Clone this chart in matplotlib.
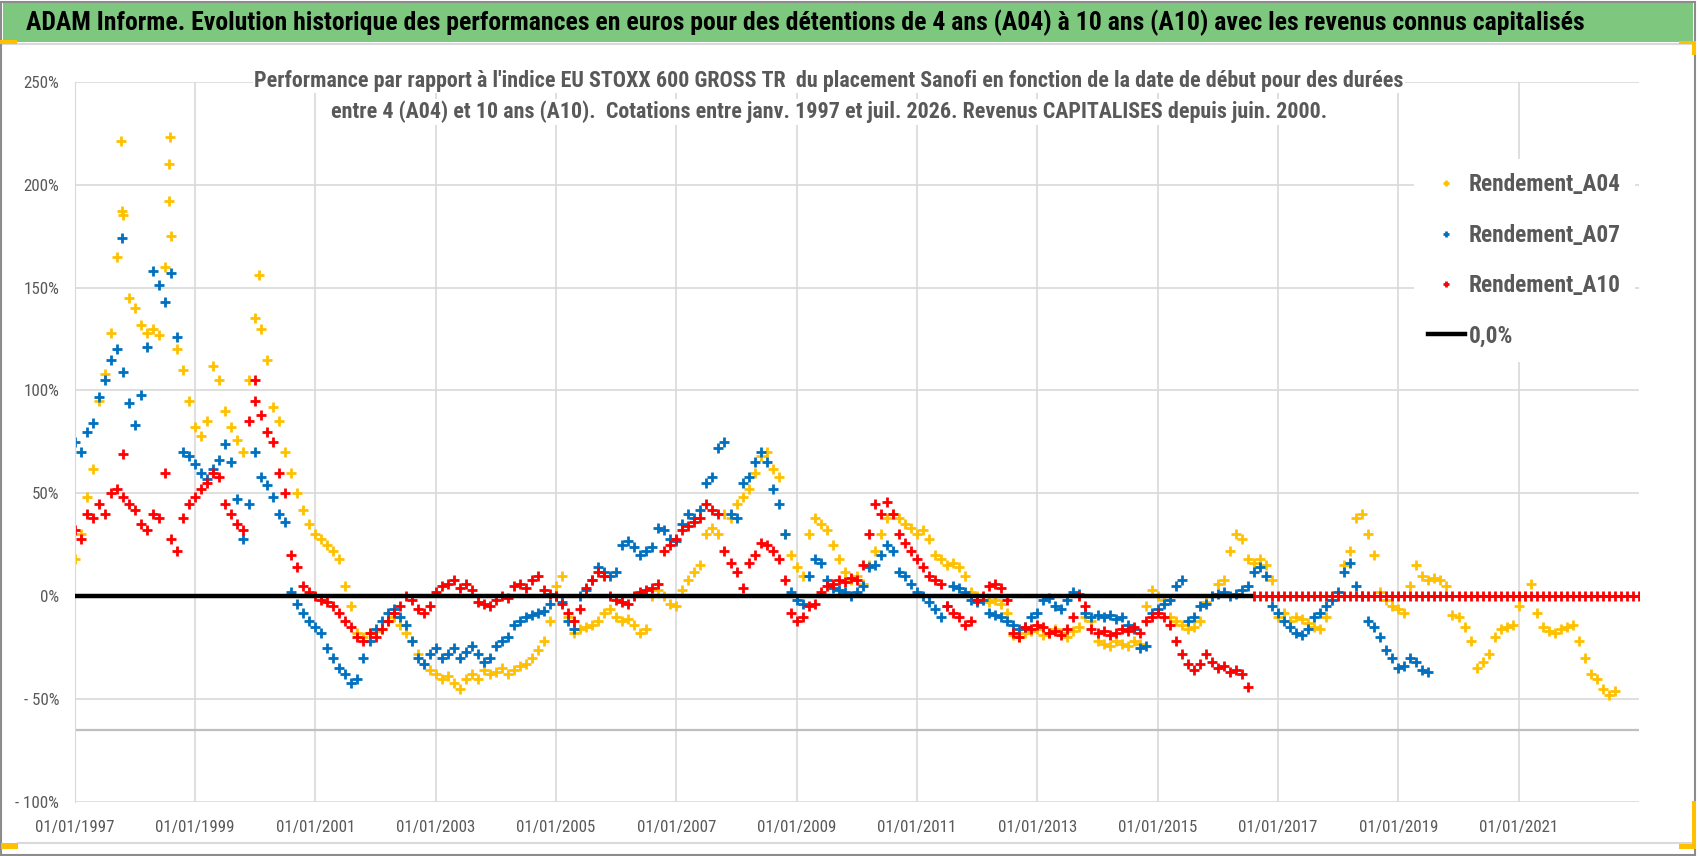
import numpy as np
import matplotlib
matplotlib.use('Agg')
import matplotlib.pyplot as plt
from matplotlib.patches import Rectangle
from matplotlib.lines import Line2D

# ---- data (step 0.1 year from 01/01/1997) ----
start_year = 1997.0
step = 0.1

a04 = [18, 30, 48, 62, 95, 108, 128, 165, 185, 145,
       140, 132, 128, 130, 127, 160, 175, 120, 110, 95,
       82, 78, 85, 112, 105, 90, 82, 76, 70, 105,
       135, 130, 115, 92, 85, 70, 60, 50, 42, 35,
       30, 28, 25, 22, 18, 5, -5, -18, -20, -18,
       -17, -16, -12, -10, -14, -18, -22, -28, -33, -36,
       -38, -40, -39, -42, -45, -40, -38, -40, -36, -38,
       -37, -35, -38, -36, -34, -33, -30, -26, -22, -12,
       5, 10, -10, -18, -16, -15, -14, -12, -8, -6,
       -10, -12, -11, -14, -18, -16, 0, 3, 0, -4,
       -5, 3, 8, 12, 15, 30, 33, 30, 40, 38,
       45, 48, 52, 60, 68, 70, 62, 58, 30, 20,
       14, 10, 30, 38, 35, 32, 25, 18, 12, 8,
       10, 6, 15, 22, 30, 38, 40, 38, 35, 33,
       30, 32, 28, 20, 18, 15, 16, 14, 10, 2,
       0, -2, -3, -2, -4, -8, -19, -20, -18, -17,
       -16, -19, -18, -16, -18, -20, -17, -15, -10, -12,
       -22, -23, -24, -22, -23, -24, -22, -23, -5, 3,
       0, -2, -10, -12, -14, -16, -15, -12, -3, 0,
       6, 8, 22, 30, 28, 18, 16, 18, 15, 8,
       -10, -8, -12, -10, -11, -13, -15, -16, -10, -2,
       0, 15, 22, 38, 40, 30, 20, 2, -2, -5,
       -6, -8, 5, 15, 10, 8, 9, 8, 5, -9,
       -10, -15, -22, -35, -32, -28, -20, -16, -15, -14,
       -5, 0, 6, -8, -15, -17, -18, -16, -15, -14,
       -22, -30, -38, -40, -45, -48, -46]

a07 = [75, 70, 80, 84, 97, 105, 115, 120, 109, 94,
       83, 98, 121, 158, 151, 143, 157, 126, 70, 68,
       64, 60, 57, 62, 66, 74, 65, 47, 28, 45,
       70, 58, 54, 48, 40, 36, 2, -4, -8, -12,
       -15, -18, -25, -30, -35, -38, -42, -40, -30, -22,
       -16, -12, -8, -6, -10, -14, -22, -30, -33, -28,
       -25, -30, -28, -25, -30, -27, -24, -28, -32, -30,
       -24, -22, -20, -14, -12, -10, -9, -8, -7, -4,
       0, -3, -12, -16, 0, 3, 8, 14, 12, 10,
       12, 25, 27, 24, 20, 22, 24, 33, 32, 28,
       27, 35, 40, 38, 42, 55, 58, 72, 75, 40,
       38, 55, 58, 65, 70, 65, 52, 45, 30, 2,
       -2, -4, 10, 18, 16, 8, 4, 3, 2, 0,
       2, 5, 14, 15, 20, 25, 22, 12, 10, 6,
       2, 0, -3, -6, -10, -5, 5, 4, 2, -2,
       -3, -2, -8, -9, -10, -12, -14, -16, -15, -10,
       -8, -2, -1, -5, -6, -2, 2, 1, -8, -10,
       -9, -10, -9, -11, -10, -14, -16, -25, -24, -8,
       -6, -4, -2, 5, 8, -12, -10, -5, -4, 0,
       1, 2, 0, 1, 3, 5, 12, 14, 10, -5,
       -8, -12, -15, -18, -19, -16, -10, -8, -5, -2,
       2, 12, 16, 5, 0, -12, -15, -20, -26, -30,
       -35, -34, -30, -32, -36, -37]

a10 = [32, 28, 40, 38, 45, 40, 50, 52, 48, 45,
       42, 35, 32, 40, 38, 60, 28, 22, 38, 45,
       48, 52, 55, 60, 58, 45, 40, 35, 32, 85,
       95, 88, 80, 75, 60, 50, 20, 14, 5, 2,
       0, -2, -3, -5, -8, -12, -15, -20, -22, -18,
       -20, -16, -12, -8, -5, 0, -2, -6, -8, -5,
       2, 5, 6, 8, 4, 6, 3, -3, -4, -5,
       -2, 0, -1, 5, 6, 4, 8, 10, 3, 1,
       0, -4, -8, -12, -6, 4, 8, 12, 10, 0,
       -2, -3, -4, 0, 2, 3, 4, 6, 22, 25,
       28, 32, 34, 36, 38, 45, 42, 40, 22, 16,
       12, 4, 16, 20, 26, 25, 22, 18, 8, -8,
       -12, -10, -5, -4, 2, 5, 6, 8, 7, 9,
       8, 15, 30, 45, 40, 46, 40, 30, 26, 22,
       18, 14, 10, 8, 6, -5, -8, -10, -14, -12,
       -2, 0, 5, 6, 4, -2, -18, -20, -15, -16,
       -14, -15, -18, -17, -19, -16, -10, 0, -5, -16,
       -18, -17, -19, -18, -16, -17, -15, -18, -12, -10,
       -8, -10, -14, -22, -28, -33, -36, -33, -28, -32,
       -35, -34, -37, -36, -38, -44]
# after mid-2016 the 10-year series is plotted as 0
a10_tail = [0] * 65

# isolated spikes
a04_spike_x = [1997.77, 1997.79, 1998.56, 1998.57, 1998.58, 2000.06]
a04_spike_y = [221, 187, 192, 210, 223, 156]
a07_spike_x = [1997.78]
a07_spike_y = [174]
a10_spike_x = [1997.81, 2000.0]
a10_spike_y = [69, 105]

zero_line_x = [1997.0, 2016.55]
zero_line_y = [0, 0]
low_line = -65

tick_years = list(range(1997, 2022, 2))
ytick_vals = [250, 200, 150, 100, 50, 0, -50, -100]
ytick_lbls = ['250%', '200%', '150%', '100%', '50%', '0%', '- 50%', '- 100%']

title = ("ADAM Informe. Evolution historique des performances en euros pour des "
         "détentions de 4 ans (A04) à 10 ans (A10) avec les revenus connus capitalisés")
sub1 = ("Performance par rapport à l'indice EU STOXX 600 GROSS TR  du placement Sanofi "
        "en fonction de la date de début pour des durées")
sub2 = ("entre 4 (A04) et 10 ans (A10).  Cotations entre janv. 1997 et juil. 2026. "
        "Revenus CAPITALISES depuis juin. 2000.")
labels = ['Rendement_A04', 'Rendement_A07', 'Rendement_A10', '0,0%']

plt.rcParams['font.family'] = ['Roboto Condensed', 'DejaVu Sans']

GRAY = '#595959'
W, H = 1698, 856

def fx(px):
    return px / W

def fy(py):
    return 1 - py / H

fig = plt.figure(figsize=(W / 100, H / 100), dpi=100)
rend = fig.canvas.get_renderer()

def fit(s, target, weight='normal'):
    # font size (pt) that gives the text a width of `target` pixels
    t = fig.text(0, 0, s, fontsize=20, fontweight=weight)
    bb = t.get_window_extent(renderer=rend)
    t.remove()
    fs = 20 * target / bb.width
    return fs, bb.height * fs / 20

# title bar and frame
fig.patches.append(Rectangle((fx(3), fy(42)), fx(1693) - fx(3), fy(3) - fy(42),
                             transform=fig.transFigure, facecolor='#7DC77F',
                             edgecolor='none', zorder=-2))
fig.lines.append(Line2D([fx(3), fx(1693)], [fy(44), fy(44)], transform=fig.transFigure,
                        color='#D9D9D9', lw=1.5))
fig.lines.append(Line2D([fx(18), fx(1693)], [fy(843), fy(843)], transform=fig.transFigure,
                        color='#D9D9D9', lw=1.5))
fig.patches.append(Rectangle((0.0005, 0.001), 0.998, 0.997, transform=fig.transFigure,
                             facecolor='none', edgecolor='#8C8C8C', lw=1.5, zorder=5))
for (x0, y0, x1, y1) in [(0, 40, 17, 44), (1, 843, 18, 849), (1679, 41, 1696, 44),
                         (1692, 41, 1696, 55), (1692, 801, 1696, 849), (1679, 844, 1696, 849)]:
    fig.patches.append(Rectangle((fx(x0), fy(y1)), fx(x1) - fx(x0), fy(y0) - fy(y1),
                                 transform=fig.transFigure, facecolor='#FFC000',
                                 edgecolor='none', zorder=6))

fs_title, _ = fit(title, 1556, 'bold')
fig.text(fx(805), fy(23), title, ha='center', va='center', fontsize=fs_title,
         fontweight='bold', color='black')

ax = fig.add_axes([fx(74.7), fy(802), fx(1639) - fx(74.7), fy(81.7) - fy(802)])

x04 = start_year + step * np.arange(len(a04))
x07 = start_year + step * np.arange(len(a07))
x10 = start_year + step * np.arange(len(a10))
x10t = x10[-1] + step * np.arange(1, len(a10_tail) + 1)

mk = dict(linestyle='none', marker='+', ms=7.5, mew=2.0)
ax.plot(x04, a04, color='#FFC000', label=labels[0], **mk)
ax.plot(a04_spike_x, a04_spike_y, color='#FFC000', **mk)
ax.plot(x07, a07, color='#0070C0', label=labels[1], **mk)
ax.plot(a07_spike_x, a07_spike_y, color='#0070C0', **mk)
ax.plot(x10, a10, color='#FF0000', label=labels[2], **mk)
ax.plot(a10_spike_x, a10_spike_y, color='#FF0000', **mk)
ax.plot(x10t, a10_tail, color='#FF0000', **mk)
ax.plot(zero_line_x, zero_line_y, color='black', lw=3.2, label=labels[3], zorder=4)
ax.axhline(low_line, color='#BFBFBF', lw=1.6, zorder=1)

ax.set_xlim(1997, 2023)
ax.set_ylim(-100, 250)
ax.set_xticks(tick_years)
ax.set_xticklabels(['01/01/%d' % y for y in tick_years])
ax.set_yticks(ytick_vals)
ax.set_yticklabels(ytick_lbls)
ax.grid(True, color='#D9D9D9', lw=1.2, zorder=0)
ax.set_axisbelow(True)
for s in ax.spines.values():
    s.set_visible(False)
ax.spines['left'].set_visible(True)
ax.spines['left'].set_color('#D9D9D9')

fs_y, _ = fit('250%', 36)
fs_x, hx = fit('01/01/1997', 79)
ax.tick_params(length=0, colors=GRAY)
ax.tick_params(axis='y', labelsize=fs_y, pad=15.4 * 0.72)
ax.tick_params(axis='x', labelsize=fs_x, pad=(26 - hx / 2) * 0.72)

fs_sub, _ = fit(sub1, 1140, 'bold')
for i, s in enumerate([sub1, sub2]):
    fig.text(fx(829), fy(81 + 31 * i), s, ha='center', va='center', fontsize=fs_sub,
             fontweight='bold', color=GRAY,
             bbox=dict(facecolor='white', edgecolor='none', pad=1))

fs_leg, h_leg = fit(labels[0], 151, 'bold')
px = fs_leg / 0.72
leg = ax.legend(loc='upper left', bbox_to_anchor=(fx(1402), fy(173 - h_leg / 2 - 14)),
                bbox_transform=fig.transFigure, frameon=True, fancybox=False,
                edgecolor='none', facecolor='white', framealpha=1,
                prop={'size': fs_leg, 'weight': 'bold'},
                labelspacing=(50 - h_leg) / px, handlelength=37 / px,
                handletextpad=4 / px, borderpad=14 / px, markerscale=0.6)
for t in leg.get_texts():
    t.set_color(GRAY)

fig.savefig('out.png', dpi=100)
